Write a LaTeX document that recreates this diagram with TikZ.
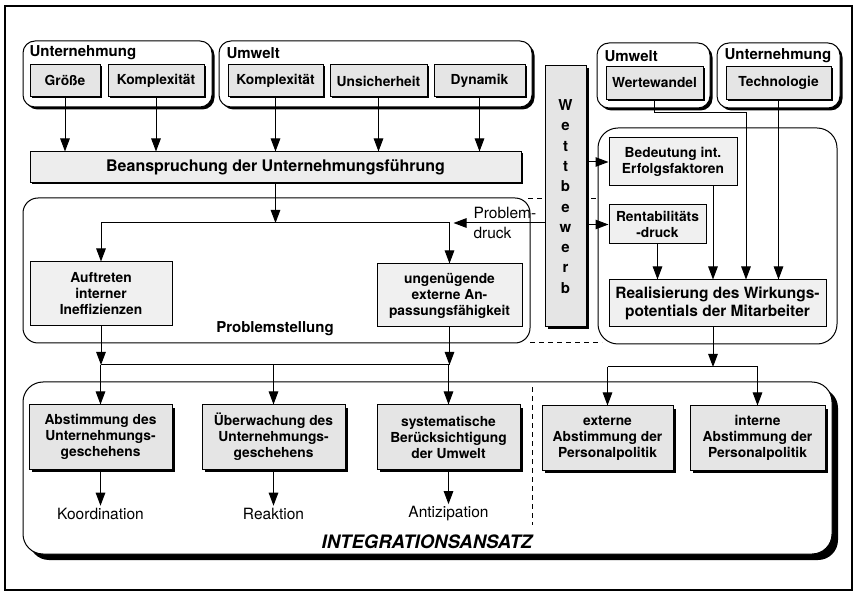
\documentclass[tikz,border=0pt]{standalone}
\usepackage{fontspec}
\setmainfont{TeX Gyre Heros}
\usetikzlibrary{shadows,arrows.meta}
\begin{document}
\begin{tikzpicture}[x=1pt,y=-1pt,
  line width=1pt,
  >={Triangle[length=13pt,width=9.5pt]},
  base/.style={inner sep=0pt, align=center},
  sbox/.style={base, draw, line width=1pt, fill=black!10, font=\bfseries\fontsize{13.8}{16}\selectfont},
  pbox/.style={base, draw, line width=1pt, fill=black!6, font=\bfseries\fontsize{13.8}{16}\selectfont},
  grp/.style={draw, line width=1pt, rounded corners=12pt, inner sep=0pt, fill=white},
  biggrp/.style={draw, line width=1pt, rounded corners=20pt, inner sep=0pt, fill=white},
  shA/.style={drop shadow={shadow xshift=1.5pt, shadow yshift=-1.5pt, fill=black, opacity=1}},
  shB/.style={drop shadow={shadow xshift=2.5pt, shadow yshift=-2.5pt, fill=black, opacity=1}},
  shC/.style={drop shadow={shadow xshift=3pt, shadow yshift=-3pt, fill=black, opacity=1}},
  shD/.style={drop shadow={shadow xshift=6pt, shadow yshift=-6pt, fill=black, opacity=1}},
  glabel/.style={inner sep=0pt, anchor=west, font=\bfseries\fontsize{15}{16}\selectfont},
  rtxt/.style={inner sep=1pt, font=\fontsize{15.5}{20}\selectfont},
  dsh/.style={dashed, dash pattern=on 5pt off 4pt, line width=1pt}
]
\useasboundingbox (0,0) rectangle (854,593);
% outer frame
\draw[line width=1.3pt] (5,6) rectangle (852,590);

% dashed guide lines (behind)
\coordinate (d1a) at (528,199);
\coordinate (d1b) at (598,199);
\coordinate (d2a) at (530,343);
\coordinate (d2b) at (602,343);
\coordinate (d3a) at (532,387);
\coordinate (d3b) at (532,525);
\draw[dsh] (d1a) -- (d1b);
\draw[dsh] (d2a) -- (d2b);

% ---------- top groups ----------
\node[grp, shB, minimum width=189pt, minimum height=66pt] (gU1) at (117.5,74) {};
\node[glabel] (lU1) at (29,53) {Unternehmung};
\node[sbox, shA, minimum width=70pt, minimum height=32pt] (groesse) at (65,81) {Größe};
\node[sbox, shA, minimum width=96pt, minimum height=32pt] (komplU) at (156,81) {Komplexität};

\node[grp, shB, minimum width=313pt, minimum height=66pt] (gW1) at (375.5,74) {};
\node[glabel] (lW1) at (226,53) {Umwelt};
\node[sbox, shA, minimum width=95pt, minimum height=32pt] (komplW) at (275.5,81) {Komplexität};
\node[sbox, shA, minimum width=97pt, minimum height=32pt] (unsich) at (378.5,81) {Unsicherheit};
\node[sbox, shA, minimum width=91pt, minimum height=32pt] (dyn) at (479.5,81) {Dynamik};

\node[grp, shB, minimum width=113pt, minimum height=65pt] (gW2) at (653.5,75.5) {};
\node[glabel] (lW2) at (604,56) {Umwelt};
\node[sbox, shA, minimum width=97pt, minimum height=33pt] (wertew) at (654.5,83) {Wertewandel};

\node[grp, shB, minimum width=123pt, minimum height=65pt] (gU2) at (778.5,75.5) {};
\node[glabel] (lU2) at (724,56) {Unternehmung};
\node[sbox, shA, minimum width=105pt, minimum height=33pt] (techn) at (778.5,83) {Technologie};

% Beanspruchung
\node[sbox, shA, fill=black!7, minimum width=491pt, minimum height=31pt, font=\bfseries\fontsize{16}{18}\selectfont] (bean) at (275.5,167.5) {Beanspruchung der Unternehmungsführung};

% Wettbewerb
\node[sbox, shB, minimum width=41pt, minimum height=261pt, font=\bfseries\fontsize{15}{20.3}\selectfont] (wett) at (565.5,196.5) {W\\e\\t\\t\\b\\e\\w\\e\\r\\b};

% ---------- Problemstellung ----------
\node[grp, rounded corners=15pt, fill=none, minimum width=507pt, minimum height=145pt] (psg) at (276.5,270.5) {};
\node[inner sep=0pt, font=\bfseries\fontsize{15}{16}\selectfont] (psgl) at (275,329) {Problemstellung};
\node[pbox, minimum width=142pt, minimum height=64pt] (auft) at (101,294) {Auftreten\\interner\\Ineffizienzen};
\node[pbox, minimum width=145pt, minimum height=63pt] (ungen) at (449.5,295.5) {ungenügende\\externe An-\\passungsfähigkeit};

% ---------- right group ----------
\node[biggrp, fill=none, minimum width=239pt, minimum height=216pt] (rgrp) at (717.5,236) {};
\node[pbox, minimum width=128pt, minimum height=48pt] (bedeut) at (673,162) {Bedeutung int.\\Erfolgsfaktoren};
\node[pbox, minimum width=97pt, minimum height=39pt] (rentab) at (657.5,224.5) {Rentabilitäts\\-druck};
\node[pbox, minimum width=217pt, minimum height=47pt, font=\bfseries\fontsize{15.5}{18}\selectfont] (realis) at (717.5,303.5) {Realisierung des Wirkungs-\\potentials der Mitarbeiter};

% ---------- bottom group ----------
\node[biggrp, shD, minimum width=809pt, minimum height=172pt] (igrp) at (427.5,468) {};
\draw[dsh] (d3a) -- (d3b);
\node[sbox, shC, minimum width=143pt, minimum height=64pt] (abst) at (100.5,437) {Abstimmung des\\Unternehmungs-\\geschehens};
\node[sbox, shC, minimum width=143pt, minimum height=64pt] (uebw) at (273.5,437) {Überwachung des\\Unternehmungs-\\geschehens};
\node[sbox, shC, minimum width=143pt, minimum height=64pt] (syst) at (448.5,437) {systematische\\Berücksichtigung\\der Umwelt};
\node[sbox, shC, minimum width=131pt, minimum height=64pt] (ext) at (607.5,438) {externe\\Abstimmung der\\Personalpolitik};
\node[sbox, shC, minimum width=135pt, minimum height=64pt] (int) at (757.5,438) {interne\\Abstimmung der\\Personalpolitik};

\node[rtxt, inner sep=2pt] (koord) at (100.5,514) {Koordination};
\node[rtxt, inner sep=2pt] (reakt) at (273.5,514) {Reaktion};
\node[rtxt, inner sep=2pt] (antiz) at (448.5,514) {Antizipation};
\node[inner sep=0pt, font=\bfseries\itshape\fontsize{18.5}{20}\selectfont] (intl) at (427,542) {INTEGRATIONSANSATZ};

% ---------- connectors ----------
\foreach \n in {groesse,komplU,komplW,unsich,dyn}
  \draw[->] (\n.south) -- (\n.south |- bean.north);

\coordinate (j1) at (275.5,223);
\draw[->] (bean.south) -- (j1);
\draw (auft.north |- j1) -- (ungen.north |- j1);
\draw[->] (auft.north |- j1) -- (auft.north);
\draw[->] (ungen.north |- j1) -- (ungen.north);
\draw[->] (wett.west |- j1) -- ([xshift=4pt]ungen.north |- j1);
\node[rtxt, anchor=west, align=left, inner sep=0pt] (pd) at (473,223) {Problem-\\druck};

\coordinate (j2) at (275,365);
\draw[->] (auft.south) -- (auft.south |- j2);
\draw[->] (ungen.south) -- (ungen.south |- j2);
\draw (auft.south |- j2) -- (ungen.south |- j2);
\draw[->] (abst.north |- j2) -- (abst.north);
\draw[->] (uebw.north |- j2) -- (uebw.north);
\draw[->] (syst.north |- j2) -- (syst.north);

\draw[->] (abst.south) -- (koord.north);
\draw[->] (uebw.south) -- (reakt.north);
\draw[->] (syst.south) -- (antiz.north);

\draw[->] (wett.east |- bedeut.west) -- (bedeut.west);
\draw[->] (wett.east |- rentab.west) -- (rentab.west);

\coordinate (wk) at (746,113);
\draw[->] (wertew.south) |- (wk) -- (wk |- realis.north);
\draw[->] (techn.south) -- (techn.south |- realis.north);
\draw[->] ([xshift=40pt]bedeut.south) -- ([xshift=40pt]bedeut.south |- realis.north);
\draw[->] (rentab.south) -- (rentab.south |- realis.north);

\coordinate (j3) at (713,367);
\draw[->] (j3 |- realis.south) -- (j3);
\draw (ext.north |- j3) -- (int.north |- j3);
\draw[->] (ext.north |- j3) -- (ext.north);
\draw[->] (int.north |- j3) -- (int.north);
\end{tikzpicture}
\end{document}
